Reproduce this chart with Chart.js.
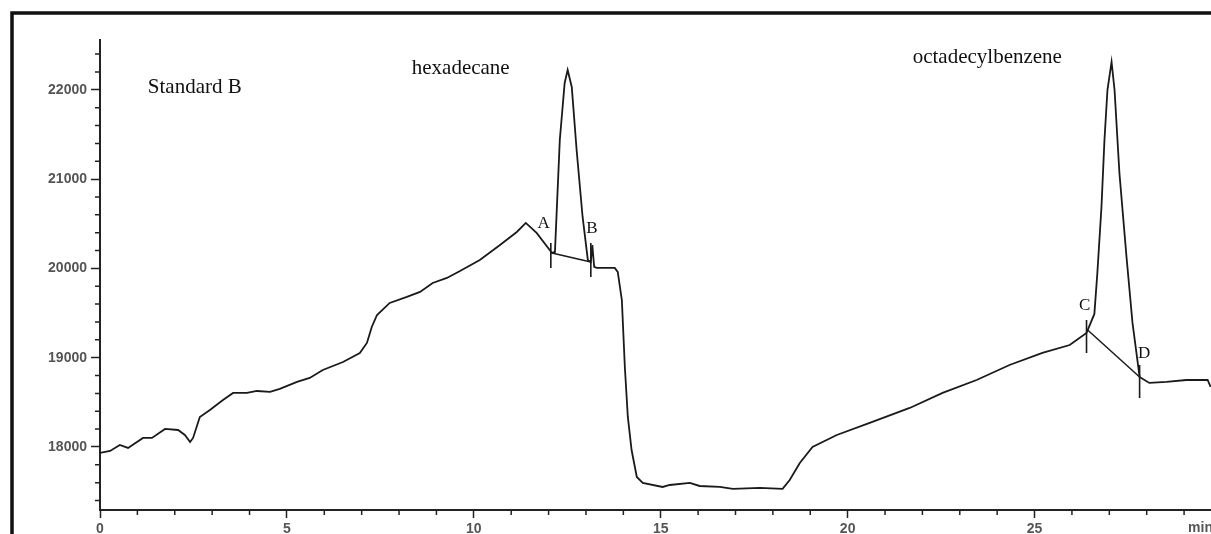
<!DOCTYPE html>
<html>
<head>
<meta charset="utf-8">
<script src="https://cdn.jsdelivr.net/npm/chart.js@4"></script>
<style>
html, body { margin: 0; padding: 0; background: #fff; overflow: hidden; }
</style>
</head>
<body>
<canvas id="myChart" width="1211" height="534"></canvas>
<script>
// Chromatogram trace (time in min, detector signal)
var timeMin = [0.00, 0.27, 0.53, 0.75, 1.15, 1.39, 1.74, 2.09, 2.27, 2.41, 2.49, 2.67, 2.94, 3.29, 3.56, 3.93,
    4.20, 4.55, 4.81, 5.27, 5.61, 5.96, 6.50, 6.95, 7.14, 7.27, 7.41, 7.75, 8.21, 8.56, 8.90, 9.28, 9.63,
    10.16, 10.70, 11.15, 11.39, 11.68, 12.03, 12.09, 12.17, 12.30, 12.43, 12.51, 12.62, 12.75, 12.91, 13.05,
    13.13, 13.17, 13.22, 13.29, 13.77, 13.85, 13.96, 14.04, 14.12, 14.22, 14.36, 14.52, 15.05, 15.24, 15.78,
    16.04, 16.58, 16.93, 17.65, 18.26, 18.45, 18.72, 19.06, 19.71, 20.59, 21.66, 22.54, 23.45, 24.33, 25.21,
    25.94, 26.39, 26.60, 26.68, 26.79, 26.87, 26.95, 27.06, 27.14, 27.27, 27.46, 27.62, 27.81, 28.07, 28.53,
    29.06, 29.63, 29.71];
var signal = [17933, 17955, 18022, 17989, 18101, 18101, 18202, 18190, 18134, 18056, 18101, 18336, 18414, 18526, 18605, 18605,
    18627, 18616, 18650, 18728, 18773, 18862, 18952, 19053, 19165, 19344, 19478, 19613, 19680, 19736, 19837, 19893, 19971,
    20094, 20262, 20408, 20509, 20397, 20206, 20173, 20184, 21438, 22077, 22222, 22032, 21326, 20576, 20094,
    20072, 20262, 20016, 20005, 20005, 19960, 19646, 18896, 18336, 17966, 17664, 17597, 17552, 17574, 17597,
    17563, 17552, 17530, 17541, 17530, 17630, 17821, 18000, 18134, 18269, 18437, 18605, 18750, 18918, 19053,
    19142, 19277, 19490, 19949, 20688, 21438, 21998, 22312, 21998, 21068, 20128, 19389, 18784, 18717, 18728,
    18750, 18750, 18672];

// Integration baselines A-B and C-D
var baseTime = [[12.09, 13.13], [26.42, 27.81]];
var baseSignal = [[20173, 20072], [19310, 18784]];

// Peak markers A, B, C, D
var markLabels = ['A', 'B', 'C', 'D'];
var markTime = [12.06, 13.13, 26.39, 27.81];
var markTop = [20284, 20284, 19422, 18918];
var markBottom = [20005, 19904, 19053, 18549];
var markTextTime = [11.87, 13.16, 26.34, 27.93];
var markTextSignal = [20453, 20397, 19534, 18997];

// Free text
var notes = ['Standard B', 'hexadecane', 'octadecylbenzene'];
var noteTime = [1.28, 8.34, 21.74];
var noteSignal = [21965, 22178, 22301];

var xTicks = [0, 5, 10, 15, 20, 25];
var yTicks = [18000, 19000, 20000, 21000, 22000];

var datasets = [{
    data: timeMin.map(function (t, i) { return { x: t, y: signal[i] }; }),
    borderColor: '#1a1a1a',
    borderWidth: 1.8
}];
baseTime.forEach(function (bt, i) {
    datasets.push({
        data: [{ x: bt[0], y: baseSignal[i][0] }, { x: bt[1], y: baseSignal[i][1] }],
        borderColor: '#1a1a1a',
        borderWidth: 1.5
    });
});
markTime.forEach(function (t, i) {
    datasets.push({
        data: [{ x: t, y: markTop[i] }, { x: t, y: markBottom[i] }],
        borderColor: '#1a1a1a',
        borderWidth: 1.6
    });
});

var decor = {
    id: 'decor',
    afterDraw: function (chart) {
        var c = chart.ctx, xs = chart.scales.x, ys = chart.scales.y;
        c.save();
        // minor ticks
        c.strokeStyle = '#222';
        c.lineWidth = 1.5;
        c.beginPath();
        for (var v = 1; v <= xs.max; v++) {
            if (v % 5 === 0) continue;
            var px = xs.getPixelForValue(v);
            c.moveTo(px, xs.top);
            c.lineTo(px, xs.top + 5);
        }
        for (var w = 17400; w <= ys.max; w += 200) {
            if (w % 1000 === 0) continue;
            var py = ys.getPixelForValue(w);
            c.moveTo(ys.right - 5, py);
            c.lineTo(ys.right, py);
        }
        c.stroke();

        // text
        c.fillStyle = '#111';
        c.textBaseline = 'alphabetic';
        c.font = '21px "Liberation Serif", "Times New Roman", serif';
        c.textAlign = 'left';
        notes.forEach(function (n, i) {
            c.fillText(n, xs.getPixelForValue(noteTime[i]), ys.getPixelForValue(noteSignal[i]));
        });
        c.font = '17px "Liberation Serif", "Times New Roman", serif';
        c.textAlign = 'center';
        markLabels.forEach(function (m, i) {
            c.fillText(m, xs.getPixelForValue(markTextTime[i]), ys.getPixelForValue(markTextSignal[i]));
        });

        // unit
        c.fillStyle = '#555';
        c.font = 'bold 14px "Liberation Sans", Arial, sans-serif';
        c.textAlign = 'right';
        c.textBaseline = 'top';
        c.fillText('min', 1213, 521);

        // outer frame
        c.strokeStyle = '#111';
        c.lineWidth = 3.5;
        c.strokeRect(12, 13, 1300, 600);
        c.restore();
    }
};

var ctx = document.getElementById('myChart').getContext('2d');
var myChart = new Chart(ctx, {
    type: 'line',
    data: { datasets: datasets },
    plugins: [decor],
    options: {
        responsive: false,
        animation: false,
        layout: { padding: { top: 40, right: 0, bottom: 0, left: 0 } },
        elements: { point: { radius: 0 }, line: { tension: 0 } },
        plugins: { legend: { display: false }, tooltip: { enabled: false } },
        scales: {
            x: {
                type: 'linear',
                min: 0,
                max: 29.72,
                afterBuildTicks: function (s) { s.ticks = xTicks.map(function (v) { return { value: v }; }); },
                afterFit: function (s) { s.height = 24; },
                border: { color: '#222', width: 2 },
                grid: { drawOnChartArea: false, tickLength: 8, tickColor: '#222', tickWidth: 1.5 },
                ticks: {
                    color: '#555', padding: 3,
                    font: { family: 'Liberation Sans', size: 14, weight: 'bold' },
                    callback: function (v) { return String(v); }
                }
            },
            y: {
                min: 17294,
                max: 22558,
                afterBuildTicks: function (s) { s.ticks = yTicks.map(function (v) { return { value: v }; }); },
                afterFit: function (s) { s.width = 100; },
                border: { color: '#222', width: 2 },
                grid: { drawOnChartArea: false, tickLength: 9, tickColor: '#222', tickWidth: 1.5 },
                ticks: {
                    color: '#555', padding: 4,
                    font: { family: 'Liberation Sans', size: 14, weight: 'bold' },
                    callback: function (v) { return String(v); }
                }
            }
        }
    }
});
</script>
</body>
</html>
